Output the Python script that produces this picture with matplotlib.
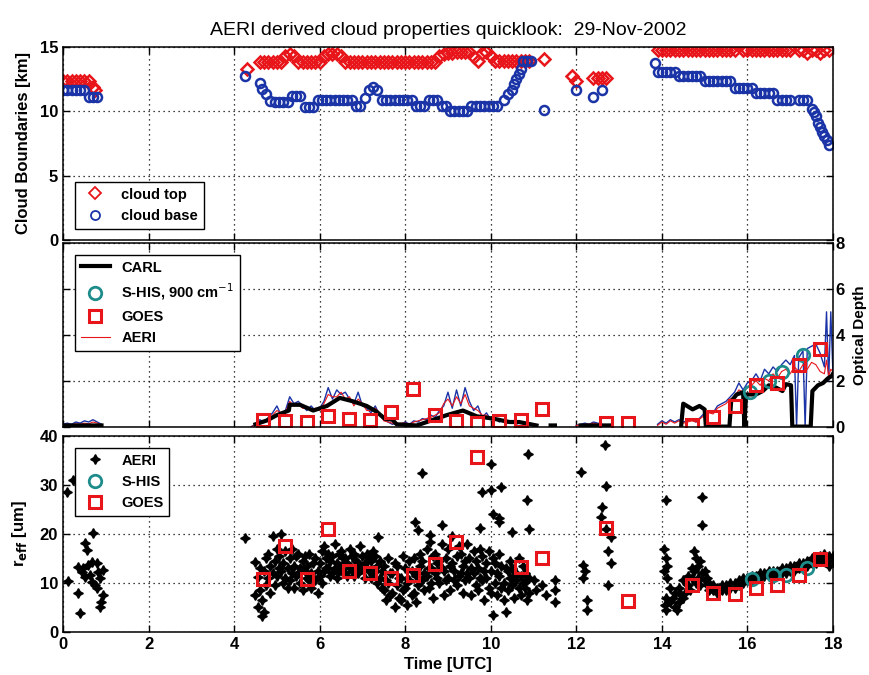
import numpy as np
import matplotlib
matplotlib.use("Agg")
import matplotlib.pyplot as plt

plt.rcParams["font.family"] = ["Liberation Sans", "DejaVu Sans"]

nan = np.nan

# ---- cloud boundaries [km] ----
top_t = [0.0, 0.1, 0.2, 0.3, 0.4, 0.5, 0.6, 0.7, 0.75,
         4.3,
         4.6, 4.7, 4.8, 4.9, 5.0, 5.1, 5.2, 5.3, 5.4, 5.5, 5.6, 5.7, 5.8, 5.9,
         6.0, 6.1, 6.2, 6.3, 6.4, 6.5, 6.6, 6.7, 6.8, 6.9, 7.0, 7.1, 7.2, 7.3,
         7.4, 7.5, 7.6, 7.7, 7.8, 7.9, 8.0, 8.1, 8.2, 8.3, 8.4, 8.5, 8.6, 8.7,
         8.8, 8.9, 9.0, 9.1, 9.2, 9.3, 9.4, 9.5, 9.6, 9.7, 9.8, 9.9, 10.0, 10.1,
         10.2, 10.3, 10.4, 10.5, 10.6, 10.7, 10.8, 10.9,
         11.25, 11.9, 12.0, 12.4, 12.5, 12.6, 12.7,
         13.9, 14.0, 14.1, 14.2, 14.3, 14.4, 14.5, 14.6, 14.7, 14.8, 14.9, 15.0,
         15.1, 15.2, 15.3, 15.4, 15.5, 15.6, 15.7, 15.8, 15.9, 16.0, 16.1, 16.2,
         16.3, 16.35, 16.4, 16.5, 16.6, 16.7, 16.8, 16.9, 17.0,
         17.2, 17.3, 17.4, 17.5, 17.6, 17.7, 17.8, 17.9]
top_h = [12.3, 12.3, 12.3, 12.3, 12.3, 12.3, 12.3, 11.9, 11.6,
         13.3,
         13.8, 13.8, 13.8, 13.8, 13.8, 13.8, 14.3, 14.4, 14.3, 13.8, 13.8, 13.8, 13.8, 13.8,
         13.8, 14.3, 14.4, 14.4, 14.4, 14.3, 13.8, 13.8, 13.8, 13.8, 13.8, 13.8, 13.8, 13.8,
         13.8, 13.8, 13.8, 13.8, 13.8, 13.8, 13.8, 13.8, 13.8, 13.8, 13.8, 13.8, 13.8, 13.8,
         14.3, 14.4, 14.5, 14.5, 14.6, 14.6, 14.6, 14.6, 14.2, 13.9, 14.5, 14.6, 14.3, 13.9,
         13.9, 13.9, 13.9, 13.9, 13.9, 13.9, 13.9, 13.9,
         14.0, 12.7, 12.3, 12.6, 12.6, 12.6, 12.6,
         14.7, 14.7, 14.7, 14.7, 14.7, 14.7, 14.7, 14.7, 14.7, 14.7, 14.7, 14.7,
         14.7, 14.7, 14.7, 14.7, 14.7, 14.7, 14.7, 15.2, 14.7, 14.7, 14.7, 14.7,
         14.7, 15.3, 14.7, 14.7, 14.7, 14.7, 14.7, 14.7, 14.7,
         14.7, 14.7, 14.5, 14.7, 14.7, 14.5, 14.7, 14.7]

base_t = [0.0, 0.1, 0.2, 0.3, 0.4, 0.5, 0.6, 0.7, 0.8,
          4.25, 4.6, 4.65, 4.75, 4.85, 4.95, 5.05, 5.15, 5.25, 5.35, 5.45, 5.55,
          5.65, 5.75, 5.85, 5.95, 6.05, 6.15, 6.25, 6.35, 6.45, 6.55, 6.65, 6.75,
          6.85, 6.95, 7.05, 7.15, 7.25, 7.35, 7.45, 7.55, 7.65, 7.75, 7.85, 7.95,
          8.05, 8.15, 8.25, 8.35, 8.45, 8.55, 8.65, 8.75, 8.85, 8.95, 9.05, 9.15,
          9.25, 9.35, 9.45, 9.55, 9.65, 9.75, 9.85, 9.95, 10.05, 10.15, 10.3,
          10.4, 10.5, 10.55, 10.6, 10.65, 10.7, 10.75, 10.85, 10.95,
          11.25, 12.0, 12.4, 12.6,
          13.85, 13.9, 14.0, 14.1, 14.2, 14.3, 14.4, 14.5, 14.6, 14.7, 14.8, 14.9,
          15.0, 15.1, 15.2, 15.3, 15.4, 15.5, 15.6, 15.7, 15.8, 15.9, 16.0, 16.1,
          16.2, 16.3, 16.4, 16.5, 16.6, 16.7, 16.8, 16.9, 17.0,
          17.2, 17.3, 17.4, 17.5, 17.55, 17.6, 17.65, 17.7, 17.75, 17.8, 17.85, 17.9]
base_h = [11.6, 11.6, 11.6, 11.6, 11.6, 11.6, 11.1, 11.1, 11.1,
          12.7, 12.2, 11.7, 11.3, 10.8, 10.7, 10.7, 10.7, 10.7, 11.2, 11.2, 11.2,
          10.3, 10.3, 10.3, 10.9, 10.9, 10.9, 10.9, 10.9, 10.9, 10.9, 10.9, 10.9,
          10.4, 10.4, 11.0, 11.6, 11.9, 11.6, 10.9, 10.9, 10.9, 10.9, 10.9, 10.9,
          10.9, 10.9, 10.4, 10.4, 10.4, 10.9, 10.9, 10.9, 10.4, 10.4, 10.0, 10.0,
          10.0, 10.0, 10.0, 10.4, 10.4, 10.4, 10.4, 10.4, 10.4, 10.4, 10.9,
          11.3, 11.6, 12.1, 12.5, 12.9, 13.3, 13.9, 13.9, 13.9,
          10.1, 11.6, 11.1, 11.6,
          13.7, 13.0, 13.0, 13.0, 13.0, 13.0, 12.7, 12.7, 12.7, 12.7, 12.7, 12.7,
          12.3, 12.3, 12.3, 12.3, 12.3, 12.3, 12.3, 11.8, 11.8, 11.8, 11.8, 11.8,
          11.4, 11.4, 11.4, 11.4, 11.4, 10.9, 10.9, 10.9, 10.9,
          10.9, 10.9, 10.9, 10.2, 9.9, 9.6, 9.1, 8.8, 8.4, 8.1, 7.8, 7.4]

# ---- optical depth ----
od_t = [0.0, 0.1, 0.2, 0.3, 0.4, 0.5, 0.6, 0.7, 0.8, 0.9, 1.0,
        4.4, 4.5, 4.6, 4.7, 4.8, 4.9, 5.0, 5.1, 5.2, 5.3, 5.4, 5.5, 5.6, 5.7,
        5.8, 5.9, 6.0, 6.1, 6.2, 6.3, 6.4, 6.5, 6.6, 6.7, 6.8, 6.9, 7.0, 7.1,
        7.2, 7.3, 7.4, 7.5, 7.6, 7.7, 7.8, 7.9, 8.0, 8.1, 8.2, 8.3, 8.4, 8.5,
        8.6, 8.7, 8.8, 8.9, 9.0, 9.1, 9.2, 9.3, 9.4, 9.5, 9.6, 9.7, 9.8, 9.9,
        10.0, 10.1, 10.2, 10.3, 10.4, 10.5, 10.6, 10.7, 10.8, 10.9, 11.0, 11.1,
        12.0, 12.1, 12.2, 12.3, 12.4, 12.5, 12.6, 12.7,
        13.9, 14.0, 14.1, 14.2, 14.3, 14.4, 14.5, 14.6, 14.7, 14.8, 14.9, 15.0,
        15.1, 15.2, 15.3, 15.4, 15.5, 15.6, 15.7, 15.8, 15.9, 16.0, 16.1, 16.2,
        16.3, 16.4, 16.5, 16.6, 16.7, 16.8, 16.9, 17.0, 17.1, 17.15, 17.2, 17.3,
        17.35, 17.4, 17.5, 17.6, 17.7, 17.8, 17.85, 17.9, 17.95, 18.0]
od_aeri_blue = [0.10, 0.15, 0.10, 0.20, 0.15, 0.25, 0.20, 0.30, 0.20, 0.10, nan,
                0.0, 0.1, 0.3, 0.2, 0.4, 0.6, 0.9, 0.5, 0.7, 1.3, 1.0, 1.1, 0.9, 0.7,
                0.9, 0.7, 0.8, 1.1, 1.7, 1.2, 1.6, 1.4, 1.5, 1.2, 1.0, 1.5, 0.9, 0.8,
                0.6, 0.9, 0.5, 0.3, 0.2, 0.1, 0.15, 0.1, 0.2, 0.1, 0.25, 0.2, 0.35, 0.3,
                0.5, 0.4, 0.7, 0.9, 1.5, 0.8, 1.6, 0.9, 1.7, 1.1, 0.7, 0.9, 0.4, 0.6,
                0.3, 0.4, 0.2, 0.3, 0.15, 0.25, 0.1, 0.2, 0.1, 0.15, 0.1, nan,
                0.05, 0.1, 0.15, 0.1, 0.2, 0.15, 0.1, nan,
                0.1, 0.25, 0.15, 0.3, 0.2, 0.3, 0.2, 0.25, 0.3, 0.2, 0.4, 0.6,
                0.7, 0.6, 0.9, 1.0, 1.1, 1.3, 1.5, 1.9, 1.6, 1.9, 2.0, 2.3,
                2.0, 2.5, 2.3, 2.6, 2.4, 2.7, 2.9, 2.7, 3.1, 0.0, 3.0, 3.3,
                0.0, 3.4, 3.5, 3.6, 3.2, 2.6, 5.0, 2.0, 5.0, 2.3]
od_aeri_red = [0.05, 0.10, 0.08, 0.12, 0.10, 0.15, 0.12, 0.20, 0.15, 0.05, nan,
               0.0, 0.05, 0.2, 0.25, 0.3, 0.5, 0.7, 0.6, 0.6, 1.1, 0.9, 1.0, 0.8, 0.8,
               0.7, 0.8, 0.7, 1.0, 1.4, 1.3, 1.3, 1.5, 1.2, 1.3, 0.9, 1.2, 1.0, 0.7,
               0.7, 0.8, 0.6, 0.25, 0.2, 0.15, 0.1, 0.15, 0.15, 0.1, 0.2, 0.25, 0.3, 0.35,
               0.4, 0.5, 0.6, 1.0, 1.2, 0.9, 1.3, 1.0, 1.4, 0.9, 0.8, 0.7, 0.5, 0.5,
               0.35, 0.3, 0.25, 0.2, 0.2, 0.2, 0.15, 0.15, 0.1, 0.1, 0.05, nan,
               0.05, 0.08, 0.1, 0.1, 0.15, 0.1, 0.05, nan,
               0.05, 0.2, 0.1, 0.25, 0.15, 0.25, 0.15, 0.2, 0.25, 0.2, 0.35, 0.5,
               0.6, 0.55, 0.8, 0.9, 1.0, 1.2, 1.3, 1.6, 1.5, 1.7, 1.8, 2.0,
               1.8, 2.1, 2.0, 2.3, 2.1, 2.4, 2.5, 2.3, 2.6, 2.5, 2.4, 2.7,
               2.6, 2.5, 2.8, 2.7, 2.4, 2.3, 2.9, 2.2, 2.5, 2.4]

carl_t = [0.0, 0.9, 1.0,
          4.5, 4.77, 5.0, 5.28, 5.3, 5.54, 5.85, 6.17, 6.47, 6.78, 7.1, 7.33,
          7.52, 7.7, 7.8, 8.27, 8.74, 8.97, 9.35, 9.67, 10.05, 10.44, 10.66,
          11.07, 11.1, 11.4, 11.5, 11.6, 12.1, 12.8, 12.9,
          14.45, 14.5, 14.72, 14.88, 15.0, 15.03, 15.58, 15.62, 15.75, 15.9,
          15.93, 15.97, 16.2, 16.36, 16.5, 16.67, 16.82, 16.9, 17.02, 17.05,
          17.48, 17.52, 17.65, 17.77, 17.88, 17.97, 18.0]
carl_od = [0.05, 0.05, nan,
           0.1, 0.27, 0.5, 0.7, 0.95, 0.95, 0.7, 0.9, 1.25, 1.1, 0.9, 0.65,
           0.35, 0.3, 0.1, 0.05, 0.35, 0.5, 0.7, 0.45, 0.35, 0.2, 0.2,
           0.05, nan, 0.05, 0.05, nan, 0.05, 0.05, nan,
           0.0, 1.0, 0.75, 0.9, 0.75, 0.0, 0.0, 1.1, 1.4, 1.5,
           0.0, 1.4, 1.4, 1.55, 1.8, 1.7, 1.55, 1.85, 1.8, 0.0,
           0.0, 1.55, 1.8, 1.9, 2.1, 2.2, 2.3]

goes_t = [4.67, 5.19, 5.7, 6.2, 6.69, 7.17, 7.67, 8.18, 8.69, 9.18, 9.69,
          10.2, 10.7, 11.2, 12.7, 13.2, 14.7, 15.2, 15.7, 16.2, 16.7, 17.2, 17.7]
goes_od = [0.3, 0.25, 0.2, 0.45, 0.35, 0.3, 0.65, 1.65, 0.5, 0.25, 0.15,
           0.25, 0.3, 0.75, 0.15, 0.15, 0.05, 0.4, 0.9, 1.8, 1.9, 2.7, 3.4]
goes_reff = [10.8, 17.6, 10.8, 21.0, 12.4, 12.0, 11.0, 11.6, 13.9, 18.4, 35.7,
             nan, 13.3, 15.1, 21.2, 6.3, 9.6, 8.0, 7.8, 9.0, 9.6, 11.6, 14.9]

shis_t = [16.05, 16.5, 16.82, 17.3]
shis_od = [1.5, 2.0, 2.4, 3.1]
shis_reff_t = [16.1, 16.6, 16.9, 17.4]
shis_reff = [10.8, 11.6, 11.6, 13.1]

# ---- effective radius [um], AERI ----
# main cloud 4.5-11 h, sampled at two interleaved time sets
reff_ta = [4.5, 4.6, 4.7, 4.8, 4.9, 5.0, 5.1, 5.2, 5.3, 5.4, 5.5, 5.6, 5.7, 5.8,
           5.9, 6.0, 6.1, 6.2, 6.3, 6.4, 6.5, 6.6, 6.7, 6.8, 6.9, 7.0, 7.1, 7.2,
           7.3, 7.4, 7.5, 7.6, 7.7, 7.8, 7.9, 8.0, 8.1, 8.2, 8.3, 8.4, 8.5, 8.6,
           8.7, 8.8, 8.9, 9.0, 9.1, 9.2, 9.3, 9.4, 9.5, 9.6, 9.7, 9.8, 9.9, 10.0,
           10.1, 10.2, 10.3, 10.4, 10.5, 10.6, 10.7, 10.8, 10.9, 11.0]
reff_a1 = [14.3, 13.0, 12.5, 16.0, 19.5, 17.0, 20.0, 16.5, 15.0, 13.5, 16.0, 14.5, 11.0, 12.0,
           10.5, 14.0, 17.5, 13.0, 15.5, 14.0, 13.5, 15.0, 13.0, 16.0, 14.0, 15.5, 13.0, 14.5,
           12.5, 11.0, 13.5, 10.0, 12.0, 9.5, 11.0, 13.0, 10.5, 15.0, 12.0, 14.5, 11.5, 13.0,
           16.0, 10.0, 12.5, 17.0, 14.0, 15.5, 12.0, 14.5, 11.0, 16.5, 13.0, 15.5, 11.0, 12.5,
           14.0, 11.5, 10.0, 12.5, 9.5, 12.0, 11.5, 9.0, 11.0, 10.5]
reff_a2 = [7.6, 8.5, 4.0, 11.0, 12.0, 11.5, 12.5, 11.0, 10.5, 9.0, 12.0, 8.5, 13.5, 9.0,
           15.0, 11.5, 12.5, 16.0, 12.0, 11.0, 16.5, 12.0, 17.0, 11.5, 12.0, 13.0, 16.0, 11.0,
           15.5, 14.5, 8.5, 15.0, 8.0, 13.5, 6.5, 9.0, 14.5, 8.0, 9.5, 10.5, 17.0, 10.0,
           12.0, 14.5, 7.5, 11.0, 19.5, 9.5, 16.0, 10.5, 15.0, 12.0, 8.5, 10.5, 14.0, 8.0,
           10.0, 16.0, 6.5, 8.5, 13.0, 10.5, 7.5, 12.0, 8.0, nan]
reff_tb = [4.55, 4.65, 4.75, 4.85, 4.95, 5.05, 5.15, 5.25, 5.35, 5.45, 5.55, 5.65, 5.75, 5.85,
           5.95, 6.05, 6.15, 6.25, 6.35, 6.45, 6.55, 6.65, 6.75, 6.85, 6.95, 7.05, 7.15, 7.25,
           7.35, 7.45, 7.55, 7.65, 7.75, 7.85, 7.95, 8.05, 8.15, 8.25, 8.35, 8.45, 8.55, 8.65,
           8.75, 8.85, 8.95, 9.05, 9.15, 9.25, 9.35, 9.45, 9.55, 9.65, 9.75, 9.85, 9.95, 10.05,
           10.15, 10.25, 10.35, 10.45, 10.55, 10.65, 10.75, 10.85, 10.95, 11.05]
reff_b1 = [11.2, 6.5, 9.5, 13.5, 14.5, 15.5, 14.0, 13.0, 17.0, 15.5, 10.0, 12.5, 10.5, 14.0,
           12.5, 16.5, 13.0, 11.5, 18.0, 16.0, 12.0, 14.0, 15.5, 13.5, 17.5, 11.0, 12.5, 16.5,
           13.5, 9.0, 10.5, 7.5, 14.0, 11.0, 15.5, 10.0, 12.5, 11.5, 13.5, 8.5, 13.0, 15.5,
           11.0, 13.0, 15.0, 13.5, 10.5, 17.5, 13.5, 18.0, 13.0, 9.5, 17.0, 12.5, 9.0, 15.0,
           7.5, 9.0, 13.0, 11.0, 7.0, 15.0, 13.5, 6.5, nan, 8.5]
reff_b2 = [5.1, 3.3, 15.0, 8.0, 9.5, 13.0, 10.0, 9.0, 12.0, 11.5, 13.0, 15.5, 16.0, 11.0,
           8.0, 10.0, 15.0, 14.5, 13.0, 12.5, 15.0, 11.5, 12.5, 14.5, 13.0, 14.0, 15.0, 12.0,
           10.0, 12.5, 6.5, 12.0, 5.0, 7.0, 8.5, 5.5, 7.5, 6.0, 16.0, 12.0, 9.0, 7.0,
           14.0, 18.0, 10.5, 8.5, 12.5, 11.5, 8.0, 12.0, 7.5, 14.5, 11.0, 6.5, 16.5, 3.5,
           12.0, 13.5, 4.0, 14.5, 11.5, 9.0, 10.0, 10.5, nan, nan]

# scattered AERI points (early cloud, outliers, 12 h and 14-18 h)
reff_xt = [0.09, 0.24, 0.12, 0.35, 0.35, 0.4, 0.44, 0.47, 0.51, 0.51, 0.55, 0.58, 0.63,
           0.67, 0.67, 0.7, 0.75, 0.79, 0.79, 0.82, 0.86, 0.86, 0.9, 0.93, 0.93,
           4.25, 7.36, 8.22, 8.3, 8.39, 8.57, 8.57, 8.85, 9.75, 9.8, 10.0, 10.0, 10.05,
           10.2, 10.2, 10.25, 10.5, 10.84, 10.87, 10.9, 11.5, 11.5, 11.5, 11.2, 11.3,
           12.1, 12.15, 12.15, 12.2, 12.25, 12.25, 12.58, 12.6, 12.68, 12.7, 12.7,
           12.75, 12.75, 12.8, 12.8,
           14.1, 14.05, 14.1, 14.12, 14.05, 14.13, 14.1, 14.08, 14.1,
           14.2, 14.2, 14.25, 14.3, 14.3, 14.35, 14.4, 14.4, 14.45, 14.5, 14.5, 14.55,
           14.6, 14.6, 14.65, 14.7, 14.7, 14.75, 14.75, 14.8, 14.8, 14.85, 14.85, 14.9,
           14.9, 14.93, 14.93, 14.95, 15.0, 15.0, 15.05, 15.05, 15.1, 15.1, 15.15,
           15.2, 15.2, 15.3, 15.3, 15.4, 15.4, 15.5, 15.5, 15.6, 15.6, 15.7, 15.7,
           15.8, 15.8, 15.9, 15.9, 16.0, 16.0, 16.1, 16.1, 16.2, 16.2, 16.3, 16.3,
           16.4, 16.4, 16.5, 16.5, 16.6, 16.6, 16.7, 16.7, 16.8, 16.8, 16.9, 16.9,
           17.0, 17.0, 17.1, 17.1, 17.2, 17.2, 17.3, 17.3, 17.4, 17.4, 17.5, 17.5,
           17.6, 17.6, 17.7, 17.7, 17.8, 17.8, 17.9, 17.9, 18.0, 18.0]
reff_xv = [28.6, 31.0, 10.4, 13.3, 8.0, 3.9, 12.2, 13.1, 18.2, 11.2, 16.8, 13.7, 11.6,
           14.3, 10.2, 20.2, 9.6, 14.1, 9.0, 12.3, 11.0, 5.1, 6.0, 12.7, 7.5,
           19.2, 19.4, 22.4, 20.8, 32.4, 19.8, 18.4, 21.8, 21.2, 28.6, 34.3, 29.0, 24.0,
           23.3, 22.4, 29.6, 20.4, 27.0, 36.3, 21.0, 10.6, 8.6, 6.1, 9.5, 7.5,
           32.6, 13.7, 11.0, 12.5, 6.5, 4.4, 23.5, 25.5, 38.2, 29.8, 21.0,
           16.5, 9.6, 19.4, 14.0,
           27.0, 17.0, 15.0, 13.5, 12.5, 11.0, 7.0, 5.5, 4.5,
           9.0, 6.0, 7.0, 8.0, 5.0, 4.5, 9.0, 6.0, 7.5, 10.5, 7.0, 8.0,
           11.5, 9.5, 8.5, 13.0, 11.0, 16.5, 12.5, 15.0, 10.0, 13.5, 11.0, 14.5,
           9.5, 27.5, 21.8, 12.0, 12.5, 10.5, 11.0, 9.5, 10.0, 8.5, 9.0,
           9.5, 8.5, 9.0, 8.0, 9.5, 8.5, 9.5, 8.5, 10.0, 9.0, 10.0, 9.0,
           10.5, 9.5, 11.0, 10.0, 11.0, 10.5, 11.5, 10.5, 11.5, 11.0, 12.0, 11.0,
           12.0, 11.5, 12.5, 11.5, 12.5, 11.5, 12.5, 12.0, 13.0, 12.0, 13.0, 12.0,
           13.5, 12.5, 13.5, 12.5, 14.0, 13.0, 14.0, 13.5, 14.5, 13.5, 15.0, 14.0,
           15.0, 14.0, 15.5, 14.5, 16.0, 14.5, 15.5, 13.5, 14.5, 15.5]

xticks = [0, 2, 4, 6, 8, 10, 12, 14, 16, 18]

red = "#e8161b"
blue = "#1a33a6"
teal = "#1f8c8c"
star = (4, 1, 0)

fig = plt.figure(figsize=(8.69, 6.75), dpi=100)
ax1 = fig.add_axes([0.0725, 0.644, 0.886, 0.287])
ax2 = fig.add_axes([0.0725, 0.368, 0.886, 0.272])
ax3 = fig.add_axes([0.0725, 0.064, 0.886, 0.290])

for ax in (ax1, ax2, ax3):
    ax.set_xlim(0, 18)
    ax.set_xticks(xticks)
    ax.grid(True, linestyle=(0, (1, 3)), color="k", linewidth=0.9)
    ax.tick_params(direction="in", top=True, right=True, length=5, width=1,
                   labelsize=12)
    for lbl in ax.get_xticklabels() + ax.get_yticklabels():
        lbl.set_fontweight("bold")
    for s in ax.spines.values():
        s.set_linewidth(1.1)

# top panel
ax1.plot(top_t, top_h, linestyle="none", marker="D", markersize=6,
         markerfacecolor="none", markeredgecolor=red, markeredgewidth=1.8,
         label="cloud top")
ax1.plot(base_t, base_h, linestyle="none", marker="o", markersize=6.5,
         markerfacecolor="none", markeredgecolor=blue, markeredgewidth=1.8,
         label="cloud base")
ax1.set_ylim(0, 15)
ax1.set_yticks([0, 5, 10, 15])
ax1.set_xticklabels([])
ax1.set_ylabel("Cloud Boundaries [km]", fontsize=12, fontweight="bold", labelpad=6)
ax1.set_title("AERI derived cloud properties quicklook:  29-Nov-2002",
              fontsize=14, pad=8)
leg1 = ax1.legend(loc="lower left", fancybox=False, edgecolor="k", framealpha=1,
                  handletextpad=0.8, borderaxespad=0.8,
                  prop={"weight": "bold", "size": 10.5})
leg1.get_frame().set_linewidth(1.0)
for lh in leg1.get_lines():
    lh.set_markeredgewidth(1.3)

# middle panel
ax2.plot(od_t, od_aeri_blue, color=blue, linewidth=1.0)
ax2.plot(od_t, od_aeri_red, color=red, linewidth=0.8, label="AERI")
ax2.plot(carl_t, carl_od, color="k", linewidth=3.0, label="CARL")
ax2.plot(shis_t, shis_od, linestyle="none", marker="o", markersize=9,
         markerfacecolor="none", markeredgecolor=teal, markeredgewidth=2,
         label="S-HIS, 900 cm$^{-1}$")
ax2.plot(goes_t, goes_od, linestyle="none", marker="s", markersize=8,
         markerfacecolor="none", markeredgecolor=red, markeredgewidth=2.2,
         label="GOES")
ax2.set_ylim(0, 8)
ax2.set_yticks([0, 2, 4, 6, 8])
ax2.set_xticklabels([])
ax2.tick_params(labelleft=False, labelright=True, pad=2)
for lbl in ax2.get_yticklabels():
    lbl.set_fontweight("bold")
fig.text(0.9895, 0.504, "Optical Depth", rotation=90, ha="center", va="center",
         fontsize=11, fontweight="bold")
h, l = ax2.get_legend_handles_labels()
order = [l.index("CARL"), l.index("S-HIS, 900 cm$^{-1}$"), l.index("GOES"), l.index("AERI")]
leg2 = ax2.legend([h[i] for i in order], [l[i] for i in order], loc="upper left",
                  fancybox=False, edgecolor="k", framealpha=1,
                  prop={"weight": "bold", "size": 10.5}, borderaxespad=0.8)
leg2.get_frame().set_linewidth(1.0)

# bottom panel
ax3.plot(reff_ta, reff_a1, linestyle="none", marker=star, markersize=7, color="k")
ax3.plot(reff_ta, reff_a2, linestyle="none", marker=star, markersize=7, color="k")
ax3.plot(reff_tb, reff_b1, linestyle="none", marker=star, markersize=7, color="k")
ax3.plot(reff_tb, reff_b2, linestyle="none", marker=star, markersize=7, color="k")
ax3.plot(reff_xt, reff_xv, linestyle="none", marker=star, markersize=7, color="k",
         label="AERI")
ax3.plot(shis_reff_t, shis_reff, linestyle="none", marker="o", markersize=9,
         markerfacecolor="none", markeredgecolor=teal, markeredgewidth=2,
         label="S-HIS")
ax3.plot(goes_t, goes_reff, linestyle="none", marker="s", markersize=8,
         markerfacecolor="none", markeredgecolor=red, markeredgewidth=2.2,
         label="GOES")
ax3.set_ylim(0, 40)
ax3.set_yticks([0, 10, 20, 30, 40])
ax3.set_ylabel("r$_{\\mathbf{eff}}$ [um]", fontsize=12, fontweight="bold", labelpad=8)
ax3.set_xlabel("Time [UTC]", fontsize=12, fontweight="bold", labelpad=4)
leg3 = ax3.legend(loc="upper left", fancybox=False, edgecolor="k", framealpha=1,
                  prop={"weight": "bold", "size": 10.5}, borderaxespad=0.8)
leg3.get_frame().set_linewidth(1.0)

fig.savefig("out.png", dpi=100)
